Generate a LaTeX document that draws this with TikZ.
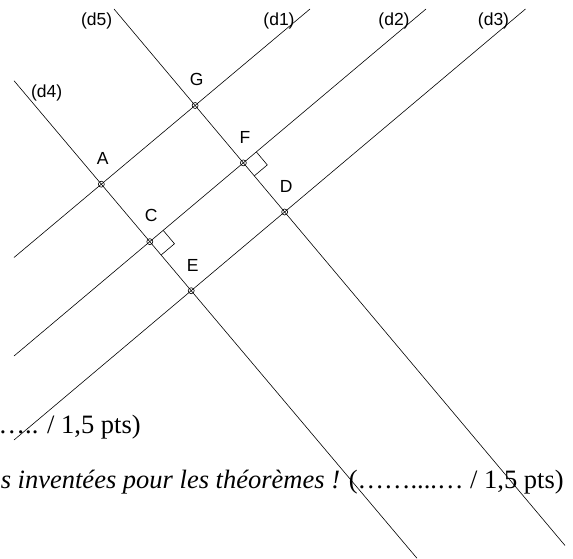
\documentclass[tikz,border=0pt]{standalone}
\usepackage{fontspec}
\setmainfont{Liberation Serif}
\newfontfamily\labelfont{Liberation Sans}
\usetikzlibrary{calc,positioning}
\tikzset{
ptmark/.style={draw, circle, inner sep=0pt, minimum size=6pt},
ptlabel/.style={inner sep=0pt, font=\labelfont\fontsize{17.5}{20}\selectfont},
scoretext/.style={inner sep=0pt, font=\fontsize{26.5}{30}\selectfont},
}

\begin{document}
\begin{tikzpicture}[x=1pt, y=-1pt, line width=0.6pt]
\useasboundingbox (0,0) rectangle (573,559);
\clip (0,0) rectangle (573,559);

% end points of the lines
\coordinate (d1a) at (14,257.5);
\coordinate (d1b) at (310,9);
\coordinate (d2a) at (14,356);
\coordinate (d2b) at (426,9);
\coordinate (d3a) at (14,440);
\coordinate (d3b) at (525.5,9);
\coordinate (d4a) at (14,80.7);
\coordinate (d4b) at (417,558.3);
\coordinate (d5a) at (114,9);
\coordinate (d5b) at (565,545.5);

\draw (d1a) -- (d1b);
\draw (d2a) -- (d2b);
\draw (d3a) -- (d3b);
\draw (d4a) -- (d4b);
\draw (d5a) -- (d5b);

\node[ptlabel] (d1-l) at (279,20.5) {(d1)};
\node[ptlabel] (d2-l) at (394,20.5) {(d2)};
\node[ptlabel] (d3-l) at (493.5,20.5) {(d3)};
\node[ptlabel] (d4-l) at (46.7,93) {(d4)};
\node[ptlabel] (d5-l) at (96.7,20.5) {(d5)};

% points
\node[ptmark] (G) at (intersection of d1a--d1b and d5a--d5b) {};
\node[ptmark] (A) at (intersection of d1a--d1b and d4a--d4b) {};
\node[ptmark] (F) at (intersection of d2a--d2b and d5a--d5b) {};
\node[ptmark] (C) at (intersection of d2a--d2b and d4a--d4b) {};
\node[ptmark] (D) at (intersection of d3a--d3b and d5a--d5b) {};
\node[ptmark] (E) at (intersection of d3a--d3b and d4a--d4b) {};

\node[ptlabel, above=16pt of G, xshift=1.5pt] (G-l) {G};
\node[ptlabel, above=16pt of A, xshift=1.5pt] (A-l) {A};
\node[ptlabel, above=16pt of F, xshift=1.5pt] (F-l) {F};
\node[ptlabel, above=16pt of C, xshift=1.5pt] (C-l) {C};
\node[ptlabel, above=16pt of D, xshift=1.5pt] (D-l) {D};
\node[ptlabel, above=16pt of E, xshift=1.5pt] (E-l) {E};

% right angles
\coordinate (Fu) at ($(F)!17pt!(d2b)$);
\coordinate (Fv) at ($(F)!17pt!(d5b)$);
\draw (Fu) -- ($(Fu)+(Fv)-(F)$) -- (Fv);
\coordinate (Cu) at ($(C)!17.5pt!(d2b)$);
\coordinate (Cv) at ($(C)!17.5pt!(d4b)$);
\draw (Cu) -- ($(Cu)+(Cv)-(C)$) -- (Cv);

% text below
\node[scoretext, anchor=base east] (score1) at (141,433) {….. / 1,5 pts)};
\node[scoretext, anchor=base west] (phrase) at (0.5,488) {\itshape s inventées pour les théorèmes !};
\node[scoretext, anchor=base east] (score2) at (564,488) {(……....… / 1,5 pts)};
\end{tikzpicture}
\end{document}
